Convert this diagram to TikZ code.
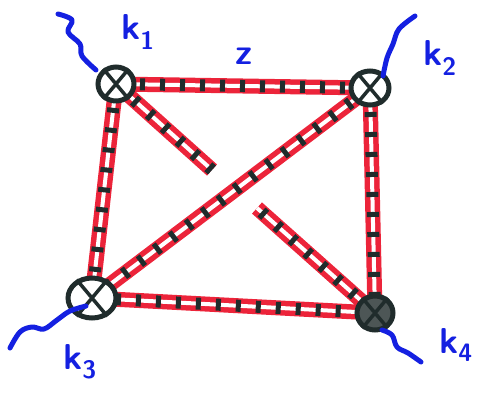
\documentclass[tikz,border=0pt]{standalone}
\usepackage{fontspec}
\usetikzlibrary{backgrounds,shapes.geometric}
\definecolor{bandred}{RGB}{236,36,58}
\definecolor{jointcol}{RGB}{32,44,44}
\definecolor{inkblue}{RGB}{20,32,225}
\tikzset{
  joint/.style={ellipse, draw=jointcol, line width=5pt, fill=white, inner sep=0pt},
  jointx/.style={draw=jointcol, line width=3.5pt},
  band/.style={draw=bandred, line width=5.5pt, double=white, double distance=4pt},
  ticks/.style={draw=jointcol, line width=12pt, dash pattern=on 5pt off 15pt, dash phase=-24pt},
  wave/.style={draw=inkblue, line width=5pt, line cap=round, line join=round},
  lab/.style={text=inkblue, font=\sffamily\bfseries\fontsize{36}{36}\selectfont, inner sep=0pt}
}
\begin{document}
\begin{tikzpicture}[x=1pt,y=-1pt]
\useasboundingbox (0,0) rectangle (486,394);
% joints
\node[joint, minimum width=36pt, minimum height=34pt] (k1) at (116,84) {};
\node[joint, minimum width=38pt, minimum height=34pt] (k2) at (370,88) {};
\node[joint, minimum width=48pt, minimum height=40pt] (k3) at (92,298) {};
\node[joint, minimum width=36pt, minimum height=34pt, fill=jointcol!80] (k4) at (375,313) {};
\foreach \n in {k1,k2,k3,k4}{
  \draw[jointx] (\n.50) -- (\n.230) (\n.130) -- (\n.310);
}
\coordinate (s1) at (212,170);
\coordinate (s4) at (257,208);
\begin{pgfonlayer}{background}
  \foreach \a/\b in {k1/k2,k1/k3,k2/k4,k3/k4,k2/k3}{
    \draw[band] (\a.center) -- (\b.center);
    \draw[ticks] (\a.center) -- (\b.center);
  }
  \draw[band] (k1.center) -- (s1);
  \draw[ticks] (k1.center) -- (s1);
  \draw[band] (s4) -- (k4.center);
  \draw[ticks, dash phase=-6pt] (s4) -- (k4.center);
\end{pgfonlayer}
% springs
\coordinate (w1) at (58,14);
\coordinate (w2) at (415,16);
\coordinate (w3) at (10,348);
\coordinate (w4) at (421,362);
\draw[wave] plot[smooth, tension=0.6] coordinates {(w1) (72,20) (68,32) (80,44) (82,56) (96,70)};
\draw[wave] plot[smooth, tension=0.6] coordinates {(w2) (399,29) (393,44) (387,58) (383,76)};
\draw[wave] plot[smooth, tension=0.6] coordinates {(w3) (20,332) (32,327) (44,329) (57,320) (70,311) (86,306)};
\draw[wave] plot[smooth, tension=0.6] coordinates {(382,330) (392,335) (397,347) (408,353) (w4)};
% labels
\node[lab] (l1) at (138,32) {k\textsubscript{1}};
\node[lab] (l2) at (440,58) {k\textsubscript{2}};
\node[lab] (l3) at (80,362) {k\textsubscript{3}};
\node[lab] (l4) at (456,345) {k\textsubscript{4}};
\node[lab] (lz) at (244,56) {z};
\end{tikzpicture}
\end{document}
